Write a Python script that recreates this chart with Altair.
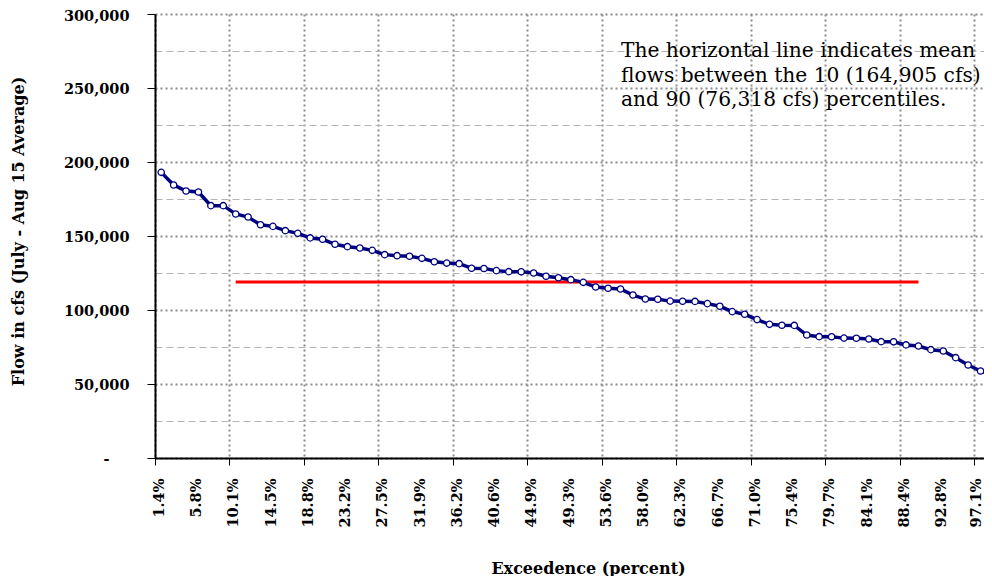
import altair as alt
import pandas as pd

# Exceedence categories (i / 69), one per year of record
exceedance_labels = [
    "1.4%", "2.9%", "4.3%", "5.8%", "7.2%", "8.7%", "10.1%", "11.6%", "13.0%", "14.5%",
    "15.9%", "17.4%", "18.8%", "20.3%", "21.7%", "23.2%", "24.6%", "26.1%", "27.5%", "29.0%",
    "30.4%", "31.9%", "33.3%", "34.8%", "36.2%", "37.7%", "39.1%", "40.6%", "42.0%", "43.5%",
    "44.9%", "46.4%", "47.8%", "49.3%", "50.7%", "52.2%", "53.6%", "55.1%", "56.5%", "58.0%",
    "59.4%", "60.9%", "62.3%", "63.8%", "65.2%", "66.7%", "68.1%", "69.6%", "71.0%", "72.5%",
    "73.9%", "75.4%", "76.8%", "78.3%", "79.7%", "81.2%", "82.6%", "84.1%", "85.5%", "87.0%",
    "88.4%", "89.9%", "91.3%", "92.8%", "94.2%", "95.7%", "97.1%", "98.6%",
]

# Flow in cfs (July - Aug 15 average)
flow_cfs = [
    193000, 184500, 180400, 179700, 170500, 170500, 164900, 162800, 157600, 156500,
    153600, 151800, 148700, 147800, 144400, 142800, 141900, 140300, 137400, 136700,
    136300, 134900, 132600, 131700, 131300, 128200, 128000, 126600, 125900, 125800,
    125000, 122800, 121800, 120500, 118700, 115500, 114700, 114200, 110100, 107400,
    107300, 106000, 105900, 105800, 104300, 102500, 98900, 97100, 93500, 90300,
    89700, 89600, 83100, 82000, 81900, 81000, 80900, 80400, 78600, 78500,
    76400, 75700, 73200, 72300, 67800, 62800, 58800, 55800,
]

# Mean flow between the 10th and 90th percentiles, drawn between those categories
mean_span_positions = [7, 62]
mean_flow_10_90 = [119000, 119000]

note_lines = [
    "The horizontal line indicates mean",
    "flows between the 10 (164,905 cfs)",
    "and 90 (76,318 cfs) percentiles.",
]

y_tick_values = [0, 25000, 50000, 75000, 100000, 125000, 150000, 175000, 200000,
                 225000, 250000, 275000, 300000]

df = pd.DataFrame({
    "idx": list(range(1, len(flow_cfs) + 1)),
    "label": exceedance_labels,
    "flow": flow_cfs,
})
mean_df = pd.DataFrame({"idx": mean_span_positions, "flow": mean_flow_10_90})
note_df = pd.DataFrame({"note": ["\n".join(note_lines)]})

FONT = "DejaVu Serif"
label_array = "[" + ",".join("'" + s + "'" for s in exceedance_labels) + "]"
x_tick_values = [0.5 + 3 * k for k in range(23)]
major_x = "(datum.value - 0.5) % 6 === 0"
major_y = "datum.value % 50000 === 0"

x_enc = alt.X(
    "idx:Q",
    scale=alt.Scale(domain=[0.5, 67.28], nice=False, zero=False),
    axis=alt.Axis(
        values=x_tick_values,
        labelExpr=label_array + "[round(datum.value + 0.5) - 1]",
        labelAngle=-90,
        labelOffset={"condition": {"test": "datum.value > 66", "value": 2}, "value": 4.5},
        labelPadding=13,
        labelFont=FONT,
        labelFontWeight="bold",
        labelFontSize=14.5,
        labelColor="black",
        labelOverlap=False,
        labelFlush=False,
        labelBound=False,
        tickSize=7,
        tickColor="black",
        tickWidth=1,
        tickOpacity={"condition": {"test": major_x, "value": 1}, "value": 0},
        domainColor="black",
        domainWidth=2,
        grid=True,
        gridColor="#8c8c8c",
        gridDash=[2, 3],
        gridWidth=2,
        gridOpacity={"condition": {"test": major_x, "value": 1}, "value": 0},
        title="Exceedence (percent)",
        titleFont=FONT,
        titleFontWeight="bold",
        titleFontSize=16,
        titleColor="black",
        titleX=433,
        titleY=110,
        titleBaseline="middle",
        titleAlign="center",
    ),
)

y_enc = alt.Y(
    "flow:Q",
    scale=alt.Scale(domain=[0, 300000], nice=False, zero=True),
    axis=alt.Axis(
        values=y_tick_values,
        labelExpr="datum.value === 0 ? '-' : (datum.value % 50000 === 0 ? format(datum.value, ',') : '')",
        labelFont=FONT,
        labelFontWeight="bold",
        labelFontSize=14.5,
        labelColor="black",
        labelOffset={"condition": {"test": "datum.value === 300000", "value": 2.5}, "value": 1.5},
        labelPadding={"condition": {"test": "datum.value === 0", "value": 38}, "value": 18},
        labelOverlap=False,
        tickSize=8,
        tickColor="black",
        tickWidth=1,
        tickOpacity={"condition": {"test": major_y, "value": 1}, "value": 0},
        domainColor="black",
        domainWidth=2,
        grid=True,
        gridColor={"condition": {"test": major_y, "value": "#8c8c8c"}, "value": "#b4b4b4"},
        gridDash={"condition": {"test": major_y, "value": [2, 3]}, "value": [7, 4]},
        gridWidth={"condition": {"test": major_y, "value": 2}, "value": 1},
        title="Flow in cfs (July - Aug 15 Average)",
        titleFont=FONT,
        titleFontWeight="bold",
        titleFontSize=16,
        titleColor="black",
        titleX=-137,
        titleY=217,
        titleBaseline="middle",
        titleAlign="center",
        titleAngle=270,
    ),
)

mean_line = alt.Chart(mean_df).mark_line(color="#ff0000", strokeWidth=3, clip=True).encode(
    x=x_enc, y=y_enc
)

flow_line = alt.Chart(df).mark_line(color="#000080", strokeWidth=3.5, clip=True).encode(
    x=x_enc, y=y_enc
)

flow_points = alt.Chart(df).mark_point(
    shape="circle", filled=True, fill="white", stroke="#000080",
    strokeWidth=1.3, size=40, opacity=1, clip=True,
).encode(x=x_enc, y=y_enc)

note = alt.Chart(note_df).mark_text(
    align="left", baseline="alphabetic", font=FONT, fontSize=20.2,
    lineBreak="\n", lineHeight=24.5, color="black",
).encode(text="note:N", x=alt.value(466), y=alt.value(43))

chart = alt.layer(mean_line, flow_line, flow_points, note).properties(
    width=829,
    height=444,
    autosize=alt.AutoSizeParams(type="none"),
    padding={"left": 147, "top": 6, "right": 0, "bottom": 118},
    background="white",
).configure_view(strokeWidth=0)

chart.save("out.html", embed_options={"renderer": "svg", "actions": False})
